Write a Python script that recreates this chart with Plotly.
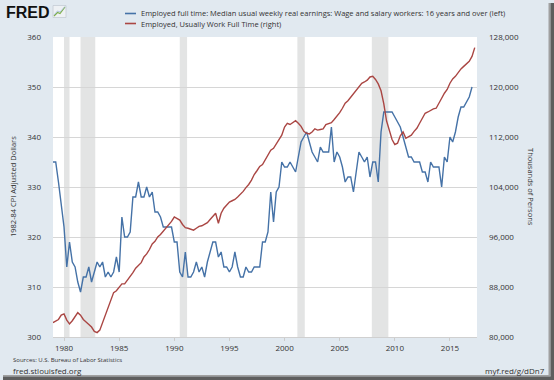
import pandas as pd
import plotly.graph_objects as go

# ---- data (quarterly, starting 1979 Q1) ----
earnings = [
    335, 335, 331, 327,   # 1979
    322, 314, 319, 315,   # 1980
    314, 311, 309, 312,   # 1981
    312, 314, 311, 313,   # 1982
    315, 314, 315, 312,   # 1983
    313, 312, 313, 316,   # 1984
    313, 324, 320, 320,   # 1985
    321, 328, 328, 331,   # 1986
    328, 328, 330, 328,   # 1987
    329, 325, 325, 324,   # 1988
    322, 322, 322, 322,   # 1989
    319, 319, 313, 312,   # 1990
    317, 312, 312, 313,   # 1991
    315, 313, 314, 312,   # 1992
    315, 317, 319, 319,   # 1993
    316, 317, 314, 314,   # 1994
    313, 314, 317, 314,   # 1995
    312, 312, 314, 313,   # 1996
    313, 314, 314, 314,   # 1997
    319, 319, 321, 329,   # 1998
    323, 329, 330, 335,   # 1999
    334, 334, 335, 334,   # 2000
    333, 336, 339, 340,   # 2001
    341, 339, 337, 336,   # 2002
    335, 338, 337, 337,   # 2003
    337, 342, 335, 337,   # 2004
    336, 334, 331, 332,   # 2005
    332, 329, 333, 337,   # 2006
    336, 335, 336, 332,   # 2007
    335, 335, 331, 341,   # 2008
    345, 345, 345, 345,   # 2009
    344, 343, 342, 340,   # 2010
    338, 336, 336, 335,   # 2011
    335, 335, 333, 333,   # 2012
    331, 335, 334, 334,   # 2013
    334, 330, 336, 335,   # 2014
    340, 339, 341, 344,   # 2015
    346, 346, 347, 348,   # 2016
    350,                  # 2017
]

employed = [
    82300, 82500, 82800, 83500,      # 1979
    83700, 82700, 82100, 82600,      # 1980
    83300, 83900, 83500, 82800,      # 1981
    82400, 82000, 81600, 80900,      # 1982
    80700, 81100, 82300, 83200,      # 1983
    84600, 85900, 87100, 87400,      # 1984
    88000, 88500, 88500, 89100,      # 1985
    89600, 90300, 91000, 91500,      # 1986
    91900, 92800, 93300, 94000,      # 1987
    94900, 95300, 96000, 96400,      # 1988
    96900, 97500, 98000, 98500,      # 1989
    99200, 99000, 98700, 98000,      # 1990
    97500, 97400, 97300, 97100,      # 1991
    97400, 97700, 97800, 98000,      # 1992
    98300, 98800, 99300, 99800,      # 1993
    98200, 99800, 100600, 101100,    # 1994
    101600, 101800, 102000, 102400,  # 1995
    102800, 103300, 103900, 104400,  # 1996
    105100, 106000, 106600, 107300,  # 1997
    107600, 108300, 109200, 109900,  # 1998
    110200, 110900, 111600, 112300,  # 1999
    113600, 114200, 114000, 114300,  # 2000
    114600, 114200, 113700, 112900,  # 2001
    112600, 112500, 112800, 113300,  # 2002
    113100, 113200, 113300, 114000,  # 2003
    114200, 114300, 114800, 115300,  # 2004
    115900, 116600, 117400, 117800,  # 2005
    118400, 118900, 119500, 120100,  # 2006
    120600, 120800, 121100, 121600,  # 2007
    121700, 121200, 120500, 119400,  # 2008
    117300, 114600, 112900, 111600,  # 2009
    110800, 111000, 112200, 112800,  # 2010
    111800, 112000, 112300, 112900,  # 2011
    113400, 114200, 115000, 115800,  # 2012
    116000, 116300, 116500, 116600,  # 2013
    117300, 118200, 119000, 119600,  # 2014
    120600, 121300, 121700, 122400,  # 2015
    122900, 123300, 123700, 124100,  # 2016
    124900, 126300,                  # 2017
]

recession_start = ["1980-01-01", "1981-07-01", "1990-07-01", "2001-03-01", "2007-12-01"]
recession_end = ["1980-07-01", "1982-11-01", "1991-03-01", "2001-11-01", "2009-06-01"]

year_ticks = [1980, 1985, 1990, 1995, 2000, 2005, 2010, 2015]
left_ticks = [300, 310, 320, 330, 340, 350, 360]
right_ticks = [80000, 88000, 96000, 104000, 112000, 120000, 128000]

name_blue = "Employed full time: Median usual weekly real earnings: Wage and salary workers: 16 years and over (left)"
name_red = "Employed, Usually Work Full Time (right)"

dates_blue = pd.date_range("1979-01-01", periods=len(earnings), freq="QS")
dates_red = pd.date_range("1979-01-01", periods=len(employed), freq="QS")

BLUE = "#4572a7"
RED = "#aa4643"
BG = "#e1e9f0"
TXT = "#333333"
FONT = "Open Sans"

W, H = 554, 380
L, R, T, B = 53, 477, 37, 337


def px(x):
    return (x - L) / (R - L)


def py(y):
    return (B - y) / (B - T)


fig = go.Figure()
fig.add_trace(go.Scatter(x=dates_red, y=employed, mode="lines", yaxis="y2",
                         line=dict(color=RED, width=1.4), name=name_red, showlegend=False))
fig.add_trace(go.Scatter(x=dates_blue, y=earnings, mode="lines", yaxis="y",
                         line=dict(color=BLUE, width=1.4), name=name_blue, showlegend=False))

shapes = []
for s, e in zip(recession_start, recession_end):
    shapes.append(dict(type="rect", xref="x", yref="paper", x0=s, x1=e, y0=0, y1=1,
                       fillcolor="#e3e4e4", line=dict(width=0), layer="below"))

# legend samples
shapes.append(dict(type="line", xref="paper", yref="paper", x0=px(125), x1=px(136),
                   y0=py(13.5), y1=py(13.5), line=dict(color=BLUE, width=1.6)))
shapes.append(dict(type="line", xref="paper", yref="paper", x0=px(125), x1=px(136),
                   y0=py(23.5), y1=py(23.5), line=dict(color=RED, width=1.6)))

# FRED icon
shapes.append(dict(type="rect", xref="paper", yref="paper", x0=px(53), x1=px(66),
                   y0=py(17.5), y1=py(5.5), fillcolor="#eef1f4", line=dict(color="#c4ccd4", width=0.8)))
shapes.append(dict(type="path", xref="paper", yref="paper",
                   path=f"M {px(54)} {py(16)} L {px(57.5)} {py(12.5)} L {px(60)} {py(13.5)} L {px(65)} {py(7)}",
                   line=dict(color="#7fb04a", width=1.2)))
shapes.append(dict(type="path", xref="paper", yref="paper",
                   path=f"M {px(54)} {py(15)} L {px(57.5)} {py(11)} L {px(60)} {py(12)} L {px(65)} {py(6.5)}",
                   line=dict(color="#9db8d6", width=0.8)))

# drop shadow right / bottom
shapes.append(dict(type="rect", xref="paper", yref="paper", x0=px(548.5), x1=px(550.5),
                   y0=py(376), y1=py(3), fillcolor="#a0a0a0", line=dict(width=0)))
shapes.append(dict(type="rect", xref="paper", yref="paper", x0=px(550.5), x1=px(554),
                   y0=py(380), y1=py(3), fillcolor="#5e5e5e", line=dict(width=0)))
shapes.append(dict(type="rect", xref="paper", yref="paper", x0=px(3), x1=px(550.5),
                   y0=py(376.5), y1=py(375), fillcolor="#a0a0a0", line=dict(width=0)))
shapes.append(dict(type="rect", xref="paper", yref="paper", x0=px(3), x1=px(554),
                   y0=py(380), y1=py(376.5), fillcolor="#5e5e5e", line=dict(width=0)))

annotations = [
    dict(text="<b>FRED</b>", x=px(4), y=py(12), xref="paper", yref="paper", xanchor="left",
         yanchor="middle", showarrow=False, font=dict(family="Liberation Sans", size=16, color="#111111")),
    dict(text=name_blue, x=px(139), y=py(13.5), xref="paper", yref="paper", xanchor="left",
         yanchor="middle", showarrow=False, font=dict(family=FONT, size=7.5, color=TXT)),
    dict(text=name_red, x=px(139), y=py(23.5), xref="paper", yref="paper", xanchor="left",
         yanchor="middle", showarrow=False, font=dict(family=FONT, size=7.5, color=TXT)),
    dict(text="1982-84 CPI Adjusted Dollars", x=px(13), y=py(187), xref="paper", yref="paper",
         xanchor="center", yanchor="middle", textangle=-90, showarrow=False,
         font=dict(family=FONT, size=7.5, color=TXT)),
    dict(text="Thousands of Persons", x=px(531), y=py(187), xref="paper", yref="paper",
         xanchor="center", yanchor="middle", textangle=90, showarrow=False,
         font=dict(family=FONT, size=7.5, color=TXT)),
    dict(text="Sources: U.S. Bureau of Labor Statistics", x=px(11), y=py(360), xref="paper", yref="paper",
         xanchor="left", yanchor="middle", showarrow=False, font=dict(family=FONT, size=6, color=TXT)),
    dict(text="fred.stlouisfed.org", x=px(11), y=py(370), xref="paper", yref="paper",
         xanchor="left", yanchor="middle", showarrow=False, font=dict(family=FONT, size=8, color=TXT)),
    dict(text="myf.red/g/dDn7", x=px(547), y=py(370), xref="paper", yref="paper",
         xanchor="right", yanchor="middle", showarrow=False, font=dict(family=FONT, size=8, color=TXT)),
]

fig.update_layout(
    width=W, height=H,
    margin=dict(l=L, r=W - R, t=T, b=H - B, pad=0),
    paper_bgcolor=BG, plot_bgcolor="white",
    font=dict(family=FONT, size=8, color=TXT),
    showlegend=False,
    shapes=shapes,
    annotations=annotations,
    xaxis=dict(type="date", range=["1979-01-01", "2017-06-15"],
               tickvals=[f"{y}-01-01" for y in year_ticks], ticktext=[str(y) for y in year_ticks],
               showgrid=False, zeroline=False, ticks="outside", ticklen=3, tickcolor="#cccccc",
               showline=True, linecolor="#d0d0d0", linewidth=1,
               tickfont=dict(family=FONT, size=8, color=TXT)),
    yaxis=dict(range=[300, 360], tickvals=left_ticks, showgrid=True, gridcolor="#d6d6d6",
               gridwidth=1, zeroline=False, ticks="", ticklabelstandoff=11,
               tickfont=dict(family=FONT, size=8, color=TXT)),
    yaxis2=dict(range=[80000, 128000], tickvals=right_ticks, tickformat=",", overlaying="y",
                side="right", showgrid=False, zeroline=False, ticks="", ticklabelstandoff=11,
                tickfont=dict(family=FONT, size=8, color=TXT)),
)

fig.write_html("out.html", config={"displayModeBar": False},
               post_script="document.body.style.margin='0px';document.body.style.overflow='hidden';")
